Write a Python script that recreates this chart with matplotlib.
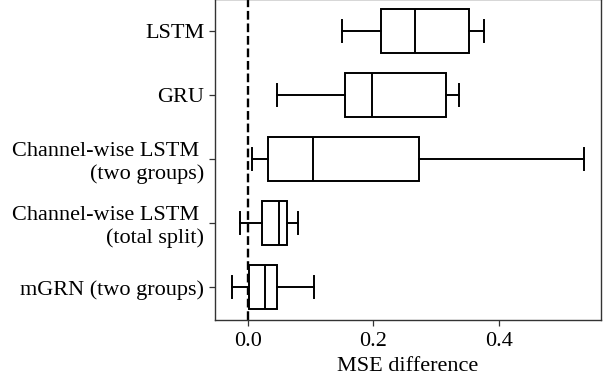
import matplotlib
matplotlib.use("Agg")
import matplotlib.pyplot as plt

plt.rcParams["font.family"] = ["Liberation Serif", "DejaVu Serif"]
plt.rcParams["font.size"] = 16

# modelos, de arriba a abajo
labels = ["LSTM", "GRU", "Channel-wise LSTM \n(two groups)",
          "Channel-wise LSTM \n(total split)", "mGRN (two groups)"]
whislo = [0.150, 0.047, 0.007, -0.013, -0.026]
q1 = [0.212, 0.154, 0.032, 0.023, 0.001]
med = [0.266, 0.197, 0.104, 0.049, 0.027]
q3 = [0.352, 0.316, 0.273, 0.063, 0.047]
whishi = [0.376, 0.337, 0.536, 0.079, 0.106]

stats = []
for i in range(len(labels)):
    stats.append({"label": labels[i], "whislo": whislo[i], "q1": q1[i],
                  "med": med[i], "q3": q3[i], "whishi": whishi[i], "fliers": []})

fig = plt.figure(figsize=(6.09, 3.77), dpi=100)
ax = fig.add_axes([214.7 / 609, 1 - 320 / 377, (601 - 214.7) / 609, 320 / 377 + 0.002])

lw = 1.4
ax.bxp(stats, positions=range(len(labels)), vert=False, widths=0.69,
       patch_artist=True, showfliers=False,
       boxprops=dict(facecolor="white", edgecolor="black", linewidth=lw),
       medianprops=dict(color="black", linewidth=lw),
       whiskerprops=dict(color="black", linewidth=lw),
       capprops=dict(color="black", linewidth=lw))

ax.axvline(0, color="black", linestyle="--", linewidth=1.7, zorder=0)

ax.set_ylim(len(labels) - 0.49, -0.5)
ax.set_xlim(-0.053, 0.5626)
ax.set_xticks([0.0, 0.2, 0.4])
ax.set_xticklabels(["0.0", "0.2", "0.4"])
ax.set_xlabel("MSE difference", labelpad=4)
ax.tick_params(axis="x", length=4.5, width=0.9, color="0.2", pad=4.5)
ax.tick_params(axis="y", length=4.5, width=0.9, color="0.2", pad=3)
for s in ax.spines.values():
    s.set_color("0.2")
    s.set_linewidth(1.0)

fig.savefig("out.png", dpi=100)
